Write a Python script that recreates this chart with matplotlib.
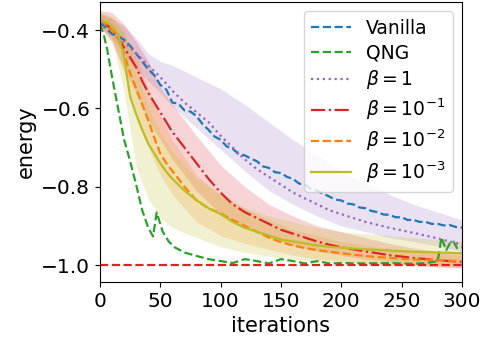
import numpy as np
import matplotlib
matplotlib.use('Agg')
import matplotlib.pyplot as plt

# vanilla gradient descent (noisy, sampled every 5 iterations)
it_vanilla = np.arange(0, 301, 5)
vanilla = [-0.38, -0.395, -0.41, -0.415, -0.425, -0.44, -0.46, -0.48, -0.50, -0.515,
           -0.54, -0.552, -0.585, -0.588, -0.605, -0.608, -0.62, -0.64, -0.655, -0.672,
           -0.68, -0.697, -0.703, -0.717, -0.72, -0.728, -0.735, -0.748, -0.752, -0.763,
           -0.765, -0.775, -0.78, -0.792, -0.795, -0.807, -0.81, -0.818, -0.825, -0.833,
           -0.835, -0.843, -0.845, -0.853, -0.855, -0.862, -0.865, -0.871, -0.872, -0.878,
           -0.878, -0.885, -0.885, -0.89, -0.89, -0.895, -0.895, -0.899, -0.898, -0.903, -0.905]

# QNG
it_qng = [0, 3, 6, 10, 15, 20, 25, 30, 35, 40, 44, 47, 52, 57, 62, 70, 80, 90, 100, 110,
          120, 130, 140, 150, 160, 170, 180, 190, 200, 220, 240, 260, 270, 280, 283, 287,
          290, 293, 296, 300]
qng = [-0.385, -0.41, -0.45, -0.52, -0.60, -0.68, -0.735, -0.795, -0.86, -0.905, -0.927,
       -0.866, -0.915, -0.94, -0.955, -0.968, -0.977, -0.985, -0.99, -0.995, -0.985, -0.99,
       -0.996, -0.985, -0.99, -0.996, -0.99, -0.996, -0.995, -0.996, -0.995, -0.997, -0.995,
       -0.99, -0.93, -0.962, -0.945, -0.94, -0.957, -0.955]

# beta curves
it_beta = [0, 5, 10, 15, 20, 25, 30, 35, 40, 45, 50, 55, 60, 70, 80, 90, 100, 110, 120, 130,
           140, 150, 160, 170, 180, 190, 200, 220, 240, 260, 280, 300]
beta_1 = [-0.38, -0.39, -0.40, -0.415, -0.43, -0.445, -0.46, -0.475, -0.49, -0.505, -0.52,
          -0.537, -0.555, -0.585, -0.61, -0.635, -0.67, -0.70, -0.73, -0.755, -0.775, -0.795,
          -0.815, -0.83, -0.845, -0.86, -0.87, -0.89, -0.905, -0.918, -0.932, -0.948]
beta_1e1 = [-0.375, -0.385, -0.40, -0.42, -0.445, -0.47, -0.495, -0.53, -0.56, -0.585, -0.61,
            -0.635, -0.66, -0.70, -0.74, -0.78, -0.815, -0.845, -0.865, -0.88, -0.895, -0.91,
            -0.92, -0.93, -0.94, -0.948, -0.955, -0.965, -0.975, -0.982, -0.988, -0.992]
beta_1e2 = [-0.375, -0.385, -0.40, -0.42, -0.46, -0.51, -0.55, -0.59, -0.63, -0.675, -0.715,
            -0.74, -0.76, -0.80, -0.835, -0.855, -0.868, -0.885, -0.90, -0.915, -0.93, -0.942,
            -0.95, -0.957, -0.962, -0.966, -0.97, -0.977, -0.982, -0.986, -0.988, -0.99]
beta_1e3 = [-0.375, -0.38, -0.39, -0.41, -0.47, -0.57, -0.615, -0.655, -0.69, -0.715, -0.74,
            -0.762, -0.78, -0.81, -0.835, -0.855, -0.87, -0.89, -0.905, -0.915, -0.925, -0.935,
            -0.94, -0.945, -0.95, -0.953, -0.956, -0.96, -0.963, -0.966, -0.968, -0.97]

# spread bands
it_band = [0, 10, 20, 30, 40, 50, 60, 80, 100, 120, 140, 160, 180, 200, 220, 240, 260, 280, 300]
beta_1_hi = [-0.36, -0.37, -0.39, -0.42, -0.46, -0.48, -0.49, -0.52, -0.55, -0.59, -0.635,
             -0.68, -0.72, -0.76, -0.79, -0.82, -0.845, -0.865, -0.885]
beta_1_lo = [-0.39, -0.42, -0.46, -0.50, -0.53, -0.56, -0.595, -0.65, -0.705, -0.76, -0.81,
             -0.845, -0.875, -0.90, -0.915, -0.93, -0.94, -0.952, -0.965]
beta_1e1_hi = [-0.35, -0.355, -0.385, -0.43, -0.48, -0.545, -0.59, -0.67, -0.745, -0.80, -0.845,
               -0.875, -0.90, -0.915, -0.93, -0.945, -0.957, -0.965, -0.972]
beta_1e1_lo = [-0.39, -0.43, -0.50, -0.56, -0.63, -0.68, -0.73, -0.81, -0.87, -0.905, -0.93,
               -0.95, -0.965, -0.975, -0.985, -0.99, -1.0, -1.005, -1.008]
beta_1e2_hi = [-0.355, -0.37, -0.41, -0.47, -0.55, -0.62, -0.68, -0.77, -0.82, -0.855, -0.885,
               -0.91, -0.925, -0.94, -0.95, -0.958, -0.965, -0.97, -0.975]
beta_1e2_lo = [-0.395, -0.43, -0.51, -0.61, -0.70, -0.77, -0.82, -0.89, -0.925, -0.945, -0.96,
               -0.975, -0.985, -0.99, -0.995, -1.0, -1.002, -1.005, -1.005]
beta_1e3_hi = [-0.355, -0.365, -0.40, -0.50, -0.60, -0.66, -0.71, -0.78, -0.82, -0.855, -0.875,
               -0.89, -0.905, -0.915, -0.92, -0.925, -0.93, -0.935, -0.94]
beta_1e3_lo = [-0.39, -0.42, -0.56, -0.75, -0.83, -0.88, -0.905, -0.93, -0.953, -0.968, -0.978,
               -0.985, -0.99, -0.993, -0.995, -0.997, -0.998, -0.999, -1.0]

ground = -1.0

fig = plt.figure(figsize=(4.8, 3.49), dpi=100)
ax = fig.add_axes([0.2083, 0.192, 0.754, 0.802])

ax.fill_between(it_band, beta_1_lo, beta_1_hi, color='C4', alpha=0.2, lw=0)
ax.fill_between(it_band, beta_1e1_lo, beta_1e1_hi, color='C3', alpha=0.2, lw=0)
ax.fill_between(it_band, beta_1e2_lo, beta_1e2_hi, color='C1', alpha=0.2, lw=0)
ax.fill_between(it_band, beta_1e3_lo, beta_1e3_hi, color='C8', alpha=0.2, lw=0)

lw = 1.6
ax.plot(it_vanilla, vanilla, '--', color='C0', lw=lw, label='Vanilla')
ax.plot(it_qng, qng, '--', color='C2', lw=lw, label='QNG')
ax.plot(it_beta, beta_1, ':', color='C4', lw=lw, label=r'$\beta=1$')
ax.plot(it_beta, beta_1e1, '-.', color='C3', lw=lw, label=r'$\beta=10^{-1}$')
ax.plot(it_beta, beta_1e2, '--', color='C1', lw=lw, label=r'$\beta=10^{-2}$')
ax.plot(it_beta, beta_1e3, '-', color='C8', lw=lw, label=r'$\beta=10^{-3}$')
ax.axhline(ground, ls='--', color='C3', lw=lw)

ax.set_xlim(0, 300)
ax.set_ylim(-1.0434, -0.3285)
ax.set_xticks([0, 50, 100, 150, 200, 250, 300])
ax.set_yticks([-1.0, -0.8, -0.6, -0.4])
ax.tick_params(labelsize=14.5)
ax.set_xlabel('iterations', fontsize=15)
ax.set_ylabel('energy', fontsize=15)
ax.legend(loc='upper right', fontsize=13.5, labelspacing=0.3, handlelength=2.1,
          borderpad=0.4)

fig.savefig('out.png', dpi=100)
